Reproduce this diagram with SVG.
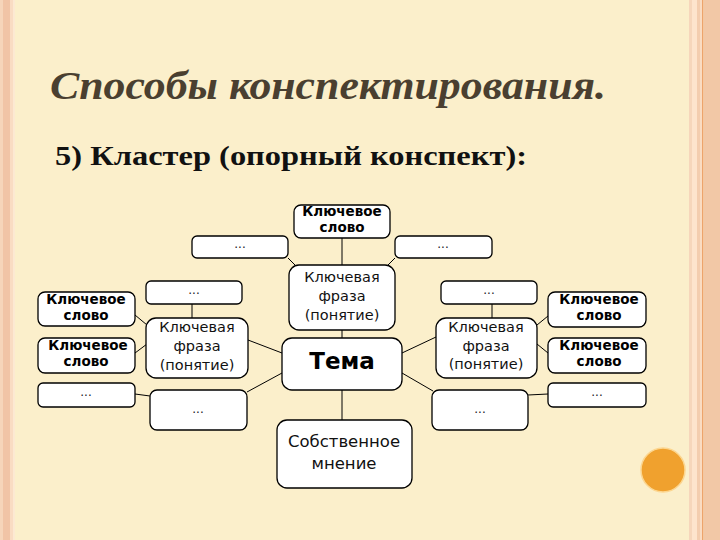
<svg xmlns="http://www.w3.org/2000/svg" width="720" height="540" viewBox="0 0 720 540">
<style>
.box{fill:#ffffff;stroke:#000;stroke-width:1.3}
.ks{font-family:"DejaVu Sans",Verdana,sans-serif;font-weight:bold;font-size:13.5px;fill:#000;text-anchor:middle}
.ph{font-family:"DejaVu Sans",Verdana,sans-serif;font-size:14.5px;fill:#111;text-anchor:middle}
.dots{font-family:"DejaVu Sans",Verdana,sans-serif;font-size:12px;fill:#222;text-anchor:middle}
.conn line{stroke:#000;stroke-width:1}
</style>
<rect width="720" height="540" fill="#FBEFCB"/>
<!-- left border -->
<rect x="0" y="0" width="3" height="540" fill="#F6D5BA"/>
<rect x="3" y="0" width="7" height="540" fill="#F1C4A6"/>
<rect x="10" y="0" width="3" height="540" fill="#F9DCC3"/>
<rect x="13" y="0" width="2" height="540" fill="#FCE9D2"/>
<!-- right border -->
<rect x="689" y="0" width="3" height="540" fill="#F6D6BB"/>
<rect x="692" y="0" width="5" height="540" fill="#FDE4CD"/>
<rect x="697" y="0" width="3" height="540" fill="#F3CDAF"/>
<rect x="700" y="0" width="2" height="540" fill="#FADCC2"/>
<rect x="702" y="0" width="1.5" height="540" fill="#EDA46C"/>
<rect x="703.5" y="0" width="16.5" height="540" fill="#F2C8A6"/>
<circle cx="663" cy="470" r="22" fill="#F0A12E" stroke="#FCD690" stroke-width="1.5"/>
<text x="50" y="99" font-family="'Liberation Serif','Times New Roman',serif" font-weight="bold" font-style="italic" font-size="41" fill="#4A3F30" textLength="556" lengthAdjust="spacingAndGlyphs">Способы конспектирования.</text>
<text x="55" y="165" font-family="'Liberation Serif','Times New Roman',serif" font-weight="bold" font-size="28" fill="#111" textLength="472" lengthAdjust="spacingAndGlyphs">5) Кластер (опорный конспект):</text>
<g class="conn" id="connectors">
<line x1="342" y1="238" x2="342" y2="265"/>
<line x1="288" y1="258" x2="295" y2="265"/>
<line x1="395" y1="258" x2="388" y2="265"/>
<line x1="342" y1="330" x2="342" y2="338"/>
<line x1="342" y1="390" x2="342" y2="420"/>
<line x1="248" y1="340" x2="282" y2="353"/>
<line x1="247" y1="392" x2="282" y2="373"/>
<line x1="192" y1="304" x2="192" y2="318"/>
<line x1="135" y1="315" x2="147" y2="325"/>
<line x1="135" y1="353" x2="147" y2="344"/>
<line x1="135" y1="394" x2="150" y2="396"/>
<line x1="402" y1="353" x2="436" y2="337"/>
<line x1="402" y1="373" x2="433" y2="391"/>
<line x1="492" y1="304" x2="492" y2="318"/>
<line x1="537" y1="325" x2="548" y2="316"/>
<line x1="537" y1="344" x2="548" y2="353"/>
<line x1="528" y1="395" x2="548" y2="394"/>
</g>
<g id="top-ks"><rect class="box" x="294" y="205" width="96" height="33" rx="7"/><text class="ks" x="342" y="216">Ключевое</text><text class="ks" x="342" y="232">слово</text></g>
<g id="top-dots-left"><rect class="box" x="192" y="236" width="96" height="22" rx="5"/><text class="dots" x="240" y="248">...</text></g>
<g id="top-dots-right"><rect class="box" x="395" y="236" width="97" height="22" rx="5"/><text class="dots" x="443" y="248">...</text></g>
<g id="center-phrase"><rect class="box" x="289" y="265" width="106" height="65" rx="10"/><text class="ph" x="342" y="282">Ключевая</text><text class="ph" x="342" y="301">фраза</text><text class="ph" x="342" y="320">(понятие)</text></g>
<g id="tema"><rect class="box" x="282" y="338" width="120" height="52" rx="10"/><text x="342" y="369" font-family="'DejaVu Sans',Verdana,sans-serif" font-weight="bold" font-size="23" text-anchor="middle" fill="#000">Тема</text></g>
<g id="opinion"><rect class="box" x="277" y="420" width="135" height="68" rx="10"/><text x="344" y="447" font-family="'DejaVu Sans',Verdana,sans-serif" font-size="16.5" text-anchor="middle" fill="#111">Собственное</text><text x="344" y="469" font-family="'DejaVu Sans',Verdana,sans-serif" font-size="16.5" text-anchor="middle" fill="#111">мнение</text></g>
<g id="left-dots-top"><rect class="box" x="146" y="281" width="96" height="23" rx="5"/><text class="dots" x="194" y="294">...</text></g>
<g id="left-ks1"><rect class="box" x="38" y="292" width="97" height="34" rx="7"/><text class="ks" x="86" y="304">Ключевое</text><text class="ks" x="86" y="320">слово</text></g>
<g id="left-ks2"><rect class="box" x="38" y="338" width="97" height="35" rx="7"/><text class="ks" x="88" y="350">Ключевое</text><text class="ks" x="86" y="366">слово</text></g>
<g id="left-phrase"><rect class="box" x="146" y="318" width="102" height="60" rx="10"/><text class="ph" x="197" y="332" font-size="15.5">Ключевая</text><text class="ph" x="197" y="351" font-size="15.5">фраза</text><text class="ph" x="197" y="370" font-size="15.5">(понятие)</text></g>
<g id="left-dots-small"><rect class="box" x="38" y="383" width="97" height="24" rx="5"/><text class="dots" x="86" y="396">...</text></g>
<g id="left-dots-lower"><rect class="box" x="150" y="390" width="97" height="40" rx="7"/><text class="dots" x="198" y="413">...</text></g>
<g id="right-dots-top"><rect class="box" x="441" y="281" width="96" height="23" rx="5"/><text class="dots" x="489" y="294">...</text></g>
<g id="right-phrase"><rect class="box" x="436" y="318" width="101" height="60" rx="10"/><text class="ph" x="486" y="332">Ключевая</text><text class="ph" x="486" y="351">фраза</text><text class="ph" x="486" y="369">(понятие)</text></g>
<g id="right-ks1"><rect class="box" x="548" y="292" width="98" height="35" rx="7"/><text class="ks" x="599" y="304">Ключевое</text><text class="ks" x="599" y="320">слово</text></g>
<g id="right-ks2"><rect class="box" x="548" y="338" width="98" height="35" rx="7"/><text class="ks" x="599" y="350">Ключевое</text><text class="ks" x="599" y="366">слово</text></g>
<g id="right-dots-small"><rect class="box" x="548" y="383" width="98" height="24" rx="5"/><text class="dots" x="597" y="396">...</text></g>
<g id="right-dots-lower"><rect class="box" x="432" y="390" width="96" height="40" rx="7"/><text class="dots" x="480" y="413">...</text></g>
</svg>
